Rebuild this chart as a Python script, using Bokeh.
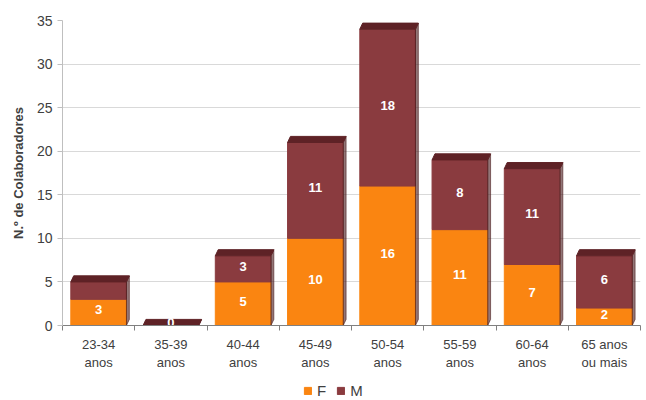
from bokeh.plotting import figure
from bokeh.layouts import column
from bokeh.models import Range1d, FixedTicker, ColumnDataSource, Legend, LegendItem
from bokeh.core.properties import value
from bokeh.embed import file_html
from bokeh.resources import INLINE

categories = ["23-34\nanos", "35-39\nanos", "40-44\nanos", "45-49\nanos",
              "50-54\nanos", "55-59\nanos", "60-64\nanos", "65 anos\nou mais"]
f_values = [3, 0, 5, 10, 16, 11, 7, 2]
m_values = [2, 0, 3, 11, 18, 8, 11, 6]
y_ticks = [0, 5, 10, 15, 20, 25, 30, 35]
series_names = ["F", "M"]

F_COL = "#FA8511"
M_COL = "#8A3B3F"
CAP_COL = "#5E2226"
SIDE_COL = "#4A1A1D"
W = 0.77

n = len(categories)
xc = [i + 0.5 for i in range(n)]

p = figure(width=646, height=372, output_backend="svg", toolbar_location=None,
           x_range=Range1d(0, n), y_range=Range1d(0, 35))
p.min_border_left = 62
p.min_border_right = 6
p.min_border_top = 20
p.min_border_bottom = 45
p.outline_line_color = None
p.background_fill_color = "white"

src = ColumnDataSource(dict(x=xc, f=f_values, m=m_values,
                            tot=[a + b for a, b in zip(f_values, m_values)]))
p.vbar(x="x", bottom=0, top="f", width=W, color=F_COL, source=src)
p.vbar(x="x", bottom="f", top="tot", width=W, color=M_COL, source=src)

# 3D-like top caps and thin side faces
dx, dy = 0.04, 0.7
cap_xs, cap_ys, side_xs, side_ys = [], [], [], []
for x, t in zip(xc, src.data["tot"]):
    x0, x1 = x - W / 2, x + W / 2
    cap_xs.append([x0, x0 + dx, x1 + dx, x1])
    cap_ys.append([t, t + dy, t + dy, t])
    side_xs.append([x1, x1 + dx, x1 + dx, x1])
    side_ys.append([0, dy, t + dy, t])
p.patches(side_xs, side_ys, color=SIDE_COL, alpha=0.6)
p.patches(cap_xs, cap_ys, color=CAP_COL)

# labels
lx, ly, lt = [], [], []
for x, fv, mv in zip(xc, f_values, m_values):
    lx.append(x); ly.append(fv / 2 + 0.3); lt.append(str(fv))
    if mv >= 3:
        lx.append(x); ly.append(fv + mv / 2 + 0.3); lt.append(str(mv))
p.text(lx, ly, text=lt, text_color="white", text_font_size="13px",
       text_font_style="bold", text_align="center", text_baseline="middle",
       text_font=value("Liberation Sans"))

# axes
p.xaxis.ticker = FixedTicker(ticks=xc, minor_ticks=list(range(n + 1)))
p.xaxis.major_label_overrides = {x: c for x, c in zip(xc, categories)}
p.xaxis.major_tick_out = 0
p.xaxis.major_tick_in = 0
p.xaxis.minor_tick_out = 5
p.xaxis.minor_tick_in = 0
p.xaxis.minor_tick_line_color = "#808080"
p.xaxis.axis_line_color = "#808080"
p.xaxis.major_label_text_font = "Liberation Sans"
p.xaxis.major_label_text_font_size = "13px"
p.xaxis.major_label_text_color = "#404040"
p.xaxis.major_label_standoff = 6

p.yaxis.ticker = FixedTicker(ticks=y_ticks)
p.yaxis.axis_line_color = "#bfbfbf"
p.yaxis.major_tick_line_color = "#bfbfbf"
p.yaxis.major_tick_out = 5
p.yaxis.major_tick_in = 0
p.yaxis.minor_tick_line_color = None
p.yaxis.major_label_text_font = "Liberation Sans"
p.yaxis.major_label_text_font_size = "14px"
p.yaxis.major_label_text_color = "#404040"
p.yaxis.axis_label = "N.º de Colaboradores"
p.yaxis.axis_label_text_font = "Liberation Sans"
p.yaxis.axis_label_text_font_size = "13px"
p.yaxis.axis_label_text_font_style = "bold"
p.yaxis.axis_label_text_color = "#404040"
p.yaxis.axis_label_standoff = 8

p.xgrid.grid_line_color = None
p.ygrid.grid_line_color = "#d9d9d9"

# legend in a small strip below (its bars lie outside the strip's visible range)
lg = figure(width=646, height=28, output_backend="svg", toolbar_location=None,
            x_range=Range1d(0, n), y_range=Range1d(100, 101))
lg.min_border = 0
lg.outline_line_color = None
lg.axis.visible = False
lg.grid.visible = False
lf = lg.vbar(x="x", bottom=0, top="f", width=W, color=F_COL, source=src)
lm = lg.vbar(x="x", bottom="f", top="tot", width=W, color=M_COL, source=src)
legend = Legend(items=[LegendItem(label=series_names[0], renderers=[lf]),
                       LegendItem(label=series_names[1], renderers=[lm])],
                orientation="horizontal", location=(241, 1),
                label_text_font="Liberation Sans", label_text_font_size="15px",
                label_text_color="#404040", glyph_width=9, glyph_height=9,
                spacing=10, padding=2, margin=0, border_line_color=None,
                background_fill_alpha=0, label_standoff=5, label_height=15,
                label_width=0)
lg.add_layout(legend, "center")

layout = column(p, lg, spacing=0)
open("out.html", "w").write(file_html(layout, INLINE))
